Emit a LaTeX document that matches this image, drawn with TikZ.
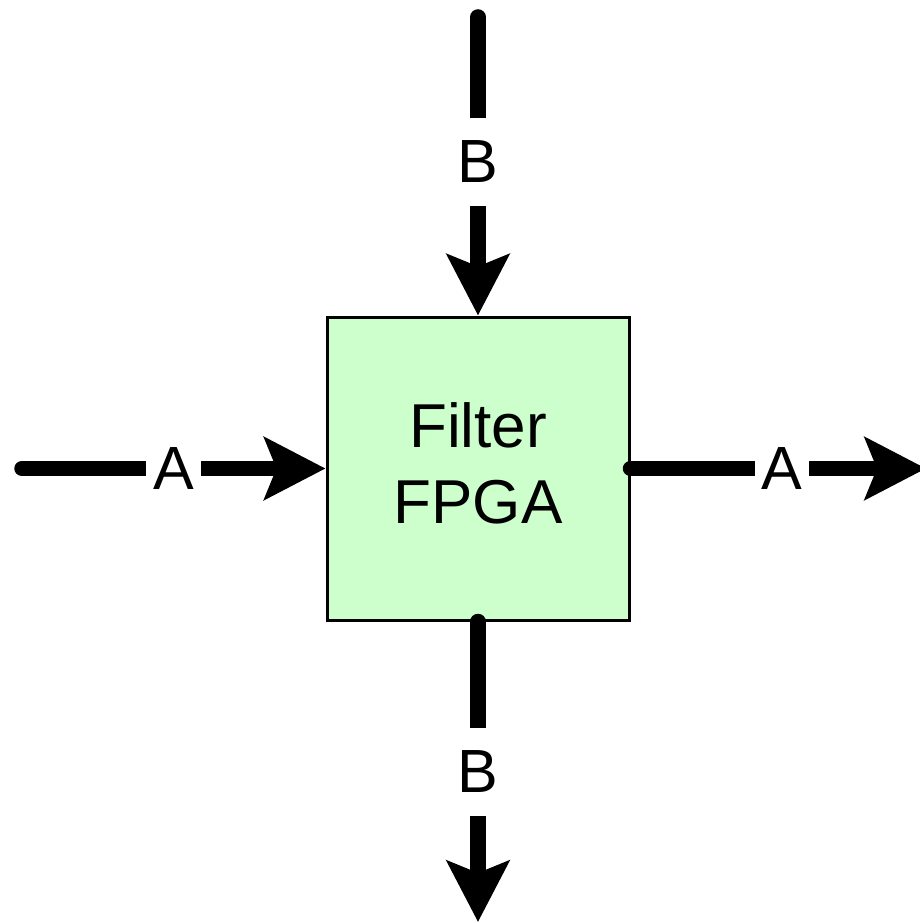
\documentclass[tikz,border=0pt]{standalone}
\usepackage{fontspec}
\setmainfont{Liberation Sans}
\usetikzlibrary{arrows.meta}
\definecolor{boxgreen}{HTML}{CCFFCC}
\begin{document}
\begin{tikzpicture}[x=1pt,y=-1pt,
  flow/.style={line width=15.5pt, line cap=round, -{Stealth[length=61pt,width=62pt,inset=12pt]}},
  lbl/.style={fill=white, inner xsep=7pt, inner ysep=23pt, font=\fontsize{61}{72}\selectfont},
  fpgabox/.style={draw=black, line width=3pt, fill=boxgreen, minimum width=302pt, minimum height=303pt, inner sep=0pt},
  fpgatext/.style={align=center, inner sep=0pt, font=\fontsize{62}{76}\selectfont}]
\useasboundingbox (0,0) rectangle (920,923);
\node[fpgabox] (fpga) at (478,468.5) {};
\node[fpgatext] (fpgalabel) at (478,463) {Filter\\FPGA};
\coordinate (tIn) at (478,17);
\coordinate (lIn) at (22,468.5);
\coordinate (rOut) at (926,468.5);
\coordinate (bOut) at (478,922);
\draw[flow] (tIn) -- node[lbl, pos=0.485] (lblB1) {B} (fpga.north);
\draw[flow] (lIn) -- node[lbl, pos=0.5] (lblA1) {A} (fpga.west);
\draw[flow] (fpga.east) -- node[lbl, pos=0.513] (lblA2) {A} (rOut);
\draw[flow] (fpga.south) -- node[lbl, pos=0.5] (lblB2) {B} (bOut);
\end{tikzpicture}
\end{document}
